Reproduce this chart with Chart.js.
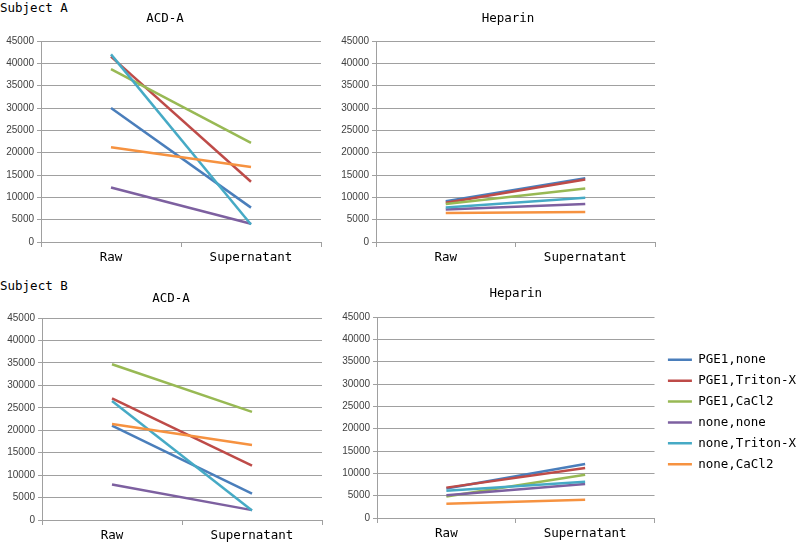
<!DOCTYPE html>
<html>
<head>
<meta charset="utf-8">
<script src="https://cdn.jsdelivr.net/npm/chart.js@4.4.1/dist/chart.umd.min.js"></script>
<style>
  body { margin: 0; background: #fff; width: 800px; height: 547px; overflow: hidden; position: relative; }
  .panel { position: absolute; }
  .subject { position: absolute; left: 0; font-family: "DejaVu Sans Mono", monospace; font-size: 12.5px; color: #000; }
</style>
</head>
<body>
<div class="subject" style="top:0px">Subject A</div>
<div class="subject" style="top:278px">Subject B</div>
<canvas id="aAcd" class="panel" width="330" height="272" style="left:0;top:0"></canvas>
<canvas id="aHep" class="panel" width="356" height="272" style="left:330px;top:0"></canvas>
<canvas id="bAcd" class="panel" width="342" height="270" style="left:0;top:277px"></canvas>
<canvas id="bHep" class="panel" width="476" height="270" style="left:330px;top:277px"></canvas>
<script>
// categories and series
const categories = ["Raw", "Supernatant"];
const seriesNames = ["PGE1,none", "PGE1,Triton-X", "PGE1,CaCl2", "none,none", "none,Triton-X", "none,CaCl2"];
const seriesColors = ["#4a7ebb", "#be4b48", "#98b954", "#7d60a0", "#46aac5", "#f69240"];

// values (one entry per series)
const subjectA_acdRaw = [30000, 41500, 38700, 12200, 42000, 21200];
const subjectA_acdSup = [7700, 13500, 22200, 4100, 3900, 16800];
const subjectA_hepRaw = [9100, 8800, 8500, 7300, 7700, 6500];
const subjectA_hepSup = [14300, 14000, 12000, 8500, 9900, 6700];
const subjectB_acdRaw = [21000, 27100, 34700, 7900, 26500, 21400];
const subjectB_acdSup = [5900, 12100, 24100, 2200, 2100, 16700];
const subjectB_hepRaw = [6600, 6800, 4800, 5100, 6100, 3200];
const subjectB_hepSup = [12100, 11200, 9700, 7600, 8100, 4100];

const yMax = 45000;
const yStep = 5000;

const monoFont = { family: "'DejaVu Sans Mono', monospace", size: 12.5, weight: "normal" };
const gridColor = "#a0a0a0";

function makePanel(id, title, raw, sup, p) {
  const datasets = seriesNames.map((name, i) => ({
    label: name,
    data: [raw[i], sup[i]],
    borderColor: seriesColors[i],
    backgroundColor: seriesColors[i],
    borderWidth: 2.5,
    pointRadius: 0,
    order: -i   // later series drawn on top, like the original
  }));

  new Chart(document.getElementById(id), {
    type: "line",
    data: { labels: categories, datasets: datasets },
    options: {
      responsive: false,
      animation: false,
      devicePixelRatio: 1,
      layout: { padding: 0 },
      plugins: {
        tooltip: { enabled: false },
        title: {
          display: true,
          text: title,
          color: "#000",
          font: monoFont,
          fullSize: p.titleFull,
          padding: { top: p.titleTop, bottom: p.titleBottom }
        },
        legend: p.legend ? {
          display: true,
          position: "right",
          maxWidth: 160,
          labels: {
            usePointStyle: true,
            pointStyle: "line",
            pointStyleWidth: 24,
            padding: 8.4,
            color: "#000",
            font: monoFont,
            sort: (a, b) => a.datasetIndex - b.datasetIndex
          }
        } : { display: false }
      },
      scales: {
        x: {
          offset: true,
          grid: { display: true, offset: true, drawOnChartArea: false, drawTicks: true, tickLength: 5, color: gridColor },
          border: { display: true, color: gridColor },
          ticks: { color: "#000", font: monoFont, padding: 3, maxRotation: 0 },
          afterFit: s => { s.height = p.xHeight; }
        },
        y: {
          min: 0,
          max: yMax,
          grid: { color: gridColor, tickLength: 4 },
          border: { display: true, color: gridColor },
          ticks: {
            stepSize: yStep,
            color: "#404040",
            padding: 3,
            font: { family: "'Liberation Sans', Arial, sans-serif", size: 10 },
            callback: v => String(v)
          },
          afterFit: s => { s.width = p.yWidth; }
        },
        // empty spacer on the right, keeps the title centred where the original has it
        spacer: {
          type: "linear",
          position: "right",
          display: true,
          grid: { display: false },
          border: { display: false },
          ticks: { display: false },
          afterFit: s => { s.width = p.spacer; }
        }
      }
    }
  });
}

makePanel("aAcd", "ACD-A", subjectA_acdRaw, subjectA_acdSup,
  { yWidth: 41, spacer: 9, xHeight: 30, titleTop: 11.5, titleBottom: 14.5, titleFull: true, legend: false });
makePanel("aHep", "Heparin", subjectA_hepRaw, subjectA_hepSup,
  { yWidth: 46, spacer: 31, xHeight: 30, titleTop: 11.5, titleBottom: 14.5, titleFull: true, legend: false });
makePanel("bAcd", "ACD-A", subjectB_acdRaw, subjectB_acdSup,
  { yWidth: 42, spacer: 20, xHeight: 27, titleTop: 14.5, titleBottom: 11.5, titleFull: true, legend: false });
makePanel("bHep", "Heparin", subjectB_hepRaw, subjectB_hepSup,
  { yWidth: 47, spacer: 5, xHeight: 29, titleTop: 8.8, titleBottom: 16.2, titleFull: false, legend: true });
</script>
</body>
</html>
